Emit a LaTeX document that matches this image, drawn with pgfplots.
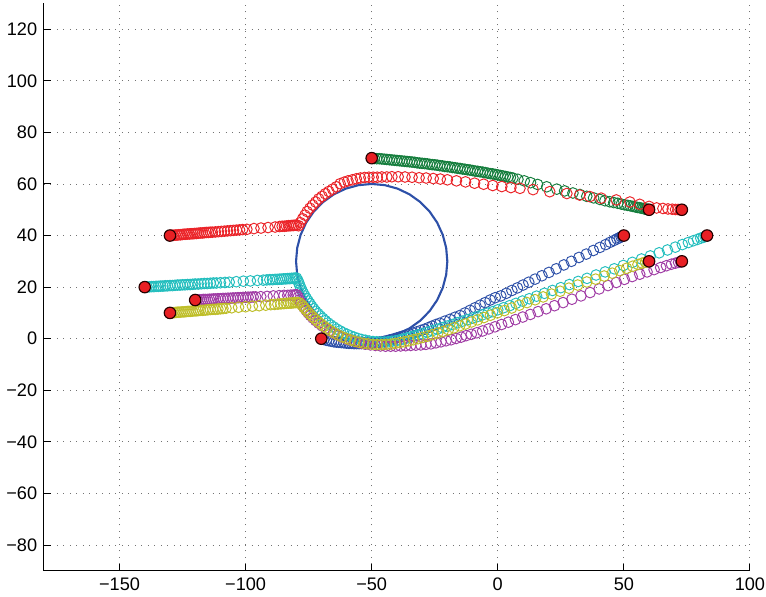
\documentclass[border=0pt]{standalone}
\usepackage{pgfplots}
\pgfplotsset{compat=1.18}
\usepackage{fontspec}
\setmainfont{Liberation Sans}
\definecolor{cB}{RGB}{45,80,168}
\definecolor{cG}{RGB}{20,125,60}
\definecolor{cR}{RGB}{235,35,40}
\definecolor{cC}{RGB}{35,190,190}
\definecolor{cM}{RGB}{160,60,165}
\definecolor{cY}{RGB}{190,190,40}
\definecolor{cD}{RGB}{232,32,36}
\begin{document}
\begin{tikzpicture}
\begin{axis}[
  scale only axis, width=369.7pt, height=297.1pt,
  xmin=-180, xmax=100, ymin=-90, ymax=130,
  axis lines=left,
  axis line style={black, line width=0.6pt, -},
  xtick={-150,-100,-50,0,50,100},
  xticklabels={−150,−100,−50,0,50,100},
  ytick={-80,-60,-40,-20,0,20,40,60,80,100,120},
  yticklabels={−80,−60,−40,−20,0,20,40,60,80,100,120},
  tick align=inside, major tick length=3.5pt,
  tick style={black, line width=0.5pt},
  grid=major,
  major grid style={black!55, line width=0.45pt, dash pattern=on 0.5pt off 2.9pt},
  ticklabel style={font=\fontsize{9.5}{11}\selectfont},
  xticklabel style={inner xsep=0.5pt},
  /pgf/number format/assume math mode=true,
  mark options={line width=0.5pt, solid},
]
% blue
\addplot[only marks, mark=o, mark size=2.8pt, cB] coordinates {
(-70,0)(-69,-0.3)(-68,-0.6)(-67,-0.8)(-66,-1.0)(-65,-1.2)(-64,-1.3)(-63,-1.4)(-62,-1.5)(-61,-1.6)
(-60,-1.7)(-59,-1.8)(-58,-1.8)(-57,-1.9)(-56,-1.9)(-55,-1.9)(-54,-1.9)(-53,-1.9)(-52,-1.8)(-51,-1.8)
(-50,-1.7)(-49,-1.6)(-48,-1.5)(-47,-1.3)(-46,-1.2)(-45,-1.0)(-44,-0.8)(-43,-0.5)(-42,-0.3)(-41,0)
(-40,0.3)(-39,0.6)(-38,0.9)(-37,1.2)(-36,1.5)(-35,1.8)(-33.5,2.2)(-32,2.7)(-30.5,3.2)(-29,3.7)
(-27.5,4.3)(-26,4.9)(-24.5,5.5)(-23,6.0)(-21,6.8)(-19,7.5)(-17,8.3)(-15,9.0)(-13,10.0)(-11,11.0)
(-9,12.0)(-7,13.0)(-5,14.0)(-3,15.0)(-1,15.9)(1.2,16.6)(3.4,17.6)(5.6,18.7)(7.8,19.7)(10,20.8)
(12.3,21.9)(14.8,23.1)(17.5,24.4)(20.3,25.7)(23.2,27.1)(26.2,28.6)(29.2,30.0)(32.2,31.5)(35.1,32.8)
(37.9,34.2)(40.5,35.4)(42.8,36.5)(44.6,37.4)(46.1,38.1)(47.3,38.7)(48.2,39.1)(48.9,39.5)(49.4,39.7)(49.8,39.9)(50,40)
};
% green
\addplot[only marks, mark=o, mark size=2.8pt, cG] coordinates {
(-50,70.0)(-49,69.9)(-48,69.8)(-47,69.8)(-46,69.7)(-45,69.6)(-44,69.5)(-43,69.4)(-42,69.3)(-41,69.2)
(-40,69.1)(-39,69.0)(-38,68.9)(-37,68.8)(-36,68.7)(-35,68.6)(-34,68.5)(-33,68.4)(-32,68.2)(-31,68.1)
(-30,68.0)(-29,67.9)(-28,67.8)(-27,67.6)(-26,67.5)(-25,67.4)(-24,67.3)(-23,67.1)(-22,67.0)(-21,66.8)
(-20,66.7)(-19,66.6)(-18,66.4)(-17,66.3)(-16,66.1)(-15,66.0)(-14,65.8)(-13,65.7)(-12,65.5)(-11,65.4)
(-10,65.2)(-9,65.0)(-8,64.9)(-7,64.7)(-6,64.6)(-5,64.4)(-4,64.2)(-3,64.0)(-2,63.9)(-1,63.7)
(0,63.5)(1,63.3)(2,63.1)(3,62.9)(4,62.7)(5,62.5)(6,62.3)(8,61.8)(10.5,61.2)(13,60.5)
(15.8,59.8)(19.4,58.9)(23.4,58.0)(26.5,57.3)(29.8,56.5)(32.6,55.9)(35.3,55.2)(38,54.6)(40.5,54.0)(42.5,53.5)
(44.4,53.1)(46,52.8)(47.6,52.5)(49,52.2)(50.3,51.9)(51.5,51.7)(52.6,51.5)(53.6,51.3)(54.5,51.1)(55.4,50.9)
(56.2,50.8)(57,50.6)(57.7,50.5)(58.3,50.3)(58.8,50.2)(59.2,50.2)(59.6,50.1)(59.9,50.0)(60,50)
};
% red
\addplot[only marks, mark=o, mark size=2.8pt, cR] coordinates {
(-130,40.0)(-129.3,40.1)(-128.6,40.1)(-127.9,40.2)(-127.2,40.2)(-126.5,40.3)(-125.8,40.3)(-125.1,40.4)
(-124.4,40.5)(-123.7,40.5)(-123,40.6)(-122.3,40.6)(-121.6,40.7)(-120.9,40.7)(-120.2,40.8)(-119.5,40.8)
(-118.8,40.9)(-118,41.0)(-117.2,41.0)(-116.4,41.1)(-115.6,41.2)(-114.8,41.2)(-114,41.3)(-113.2,41.3)
(-112,41.4)(-110.8,41.5)(-109.6,41.6)(-108.4,41.7)(-107.2,41.8)(-106,41.9)(-104.8,42.0)(-103.6,42.1)
(-102.4,42.2)(-101.2,42.3)(-99.5,42.4)(-96.7,42.7)(-93.9,42.9)(-91.1,43.1)(-88.3,43.3)(-86.5,43.5)
(-85.5,43.6)(-84.6,43.6)(-83.8,43.7)(-83,43.8)(-82.3,43.8)(-81.6,43.9)(-81,43.9)(-80.4,44.0)(-79.8,44.0)
(-79.0,43.8)(-78.3,45.0)(-77.4,46.5)(-76.5,47.9)(-75.6,49.3)(-74.5,50.6)(-73.4,51.8)(-72.2,53.0)
(-71.0,54.2)(-69.7,55.2)(-68.4,56.2)(-67.0,57.1)(-65.5,58.0)(-64.0,58.9)(-62.5,60.1)(-60.9,60.7)
(-59.4,61.2)(-57.7,61.6)(-56.1,62.0)(-54.5,62.3)(-52.8,62.5)(-51.1,62.6)(-49.4,62.6)(-47.8,62.6)
(-46,62.7)(-44,62.7)(-42,62.8)(-39.5,62.8)(-36.8,62.7)(-34,62.6)(-31.2,62.4)(-28.4,62.3)(-25.6,62.1)
(-22.8,61.9)(-20,61.6)(-16.4,61.2)(-12.8,60.8)(-9.2,60.3)(-5.6,59.9)(-2,59.4)(1.6,59.0)(5.2,58.6)
(8.8,58.3)(14,57.8)(20.6,57.0)(27.4,56.3)(32.5,55.7)(36.5,55.1)(41,54.5)(47,53.8)(52.4,53.0)
(56.3,52.1)(60,51.3)(63,50.7)(65.5,50.5)(67.5,50.3)(69.2,50.2)(70.5,50.1)(71.5,50.1)(72.3,50.0)(73,50)
};
% cyan
\addplot[only marks, mark=o, mark size=2.8pt, cC] coordinates {
(-140,20.0)(-139.1,20.1)(-138.2,20.1)(-137.3,20.2)(-136.4,20.2)(-135.5,20.3)(-134.6,20.3)(-133.7,20.4)
(-132.8,20.4)(-131.9,20.5)(-131,20.5)(-130,20.6)(-129,20.6)(-128,20.7)(-127,20.8)(-126,20.8)(-125,20.9)
(-124,20.9)(-123,21.0)(-122,21.0)(-121,21.1)(-120,21.2)(-118.8,21.2)(-117.6,21.3)(-116.4,21.4)
(-115.2,21.4)(-114,21.5)(-112.8,21.6)(-111.6,21.6)(-110,21.7)(-108.2,21.8)(-106.5,21.9)(-103.7,22.1)
(-100.9,22.3)(-98.1,22.4)(-95.3,22.6)(-93,22.7)(-91.6,22.8)(-90.4,22.9)(-89.3,22.9)(-88.3,23.0)
(-87.4,23.0)(-86.5,23.1)(-85.7,23.1)(-84.9,23.2)(-84.1,23.2)(-83.3,23.3)(-82.5,23.3)(-81.8,23.4)
(-81.1,23.4)(-80.4,23.5)(-79.8,23.5)
(-79.3,22.6)(-78.9,21.6)(-78.5,20.6)(-78.1,19.6)(-77.6,18.6)(-77.1,17.6)(-76.5,16.6)(-75.9,15.6)
(-75.2,14.6)(-74.5,13.6)(-73.8,12.6)(-73.0,11.6)(-72.2,10.6)(-71.3,9.7)(-70.4,8.8)(-69.4,7.9)
(-68.4,7.0)(-67.3,6.1)(-66.2,5.3)(-65.0,4.5)(-63.8,3.7)(-62.5,3.0)(-61.2,2.3)(-59.8,1.7)(-58.4,1.1)
(-57.0,0.6)(-55.5,0.1)(-54.0,-0.3)(-52.5,-0.6)(-51.0,-0.9)(-49.5,-1.1)(-48.0,-1.2)(-46.5,-1.3)
(-45.0,-1.3)(-43.5,-1.2)(-42.0,-1.0)(-40.5,-0.8)(-39.0,-0.5)(-37.5,-0.1)(-36.0,0.3)(-34.5,0.7)
(-33.0,1.1)(-31.5,1.5)(-30.0,1.9)(-28,2.5)(-26,3.1)(-24,3.7)(-22,4.3)(-20,4.9)(-18,5.5)(-16,6.2)
(-14,6.8)(-12,7.4)(-10,8.0)(-8,8.6)(-6,9.3)(-4,9.9)(-2,10.5)(0,11.2)(2.3,12.0)(4.7,12.8)(7.2,13.7)
(9.8,14.6)(12.5,15.5)(15.4,16.5)(18.5,17.6)(21.7,18.7)(25,19.8)(28.4,21.0)(31.9,22.2)(35.4,23.4)
(39,24.7)(42.6,25.9)(46.2,27.1)(49.8,28.4)(53.4,29.6)(57,30.9)(60.5,32.1)(64,33.3)(67.3,34.4)
(70.4,35.5)(73.2,36.5)(75.6,37.3)(77.6,38.0)(79.2,38.5)(80.5,39.0)(81.5,39.3)(82.3,39.6)(82.8,39.8)(83,40)
};
% magenta
\addplot[only marks, mark=o, mark size=2.8pt, cM] coordinates {
(-120,15.0)(-119.2,15.0)(-118.4,15.1)(-117.6,15.1)(-116.8,15.2)(-116,15.2)(-115.2,15.2)(-114.4,15.3)
(-113.6,15.3)(-112.8,15.4)(-112,15.4)(-111,15.5)(-110,15.5)(-109,15.6)(-108,15.6)(-107,15.7)(-106,15.7)
(-105,15.8)(-104,15.8)(-103,15.9)(-102,15.9)(-101,16.0)(-100,16.0)(-99,16.1)(-98,16.1)(-97,16.2)
(-96,16.2)(-94,16.3)(-91.5,16.4)(-89,16.6)(-86.7,16.7)(-84.8,16.8)(-83.3,16.8)(-82.1,16.9)(-81.1,16.9)
(-80.3,17.0)(-79.7,17.0)
(-79.2,16.0)(-78.7,15.0)(-78.1,14.0)(-77.5,13.0)(-76.8,12.0)(-76.0,11.0)(-75.2,10.0)(-74.3,9.0)
(-73.3,8.0)(-72.2,7.0)(-71.0,6.0)(-69.7,5.0)(-68.3,4.0)(-66.8,3.1)(-65.2,2.2)(-63.5,1.4)(-61.8,0.6)
(-60.0,-0.1)(-58.2,-0.7)(-56.3,-1.2)(-54.4,-1.7)(-52.5,-2.1)(-50.5,-2.4)(-48.5,-2.6)(-46.5,-2.8)
(-44.5,-2.9)(-42.5,-2.9)(-40.5,-2.9)(-38.5,-2.8)(-36.5,-2.7)(-34.5,-2.6)(-32.5,-2.5)(-30.5,-2.4)
(-28.5,-2.2)(-26.5,-2.0)(-24.5,-1.6)(-22.5,-1.2)(-20.5,-0.8)(-18.5,-0.4)(-16.5,0.1)(-14.5,0.6)
(-12.5,1.2)(-10.5,1.7)(-8.3,2.3)(-6,3.0)(-3.6,3.8)(-1.1,4.6)(1.5,5.5)(4.2,6.4)(7,7.4)(9.9,8.4)
(12.9,9.4)(16,10.5)(19.2,11.6)(22.5,12.8)(25.9,14.0)(29.4,15.3)(33,16.6)(36.6,17.9)(40.2,19.3)
(43.7,20.6)(47,21.8)(50.2,23.0)(53.3,24.1)(56.3,25.0)(59.2,25.9)(62,26.8)(64.6,27.6)(66.9,28.3)
(68.9,28.9)(70.5,29.3)(71.7,29.6)(72.5,29.8)(73,30)
};
% yellow
\addplot[only marks, mark=o, mark size=2.8pt, cY] coordinates {
(-130,10.0)(-129.2,10.1)(-128.4,10.1)(-127.6,10.2)(-126.8,10.3)(-126,10.3)(-125.2,10.4)(-124.4,10.4)
(-123.6,10.5)(-122.8,10.6)(-122,10.6)(-121.2,10.7)(-120.4,10.8)(-119.6,10.8)(-118.8,10.9)(-118,11.0)
(-117,11.0)(-116,11.1)(-115,11.2)(-114,11.3)(-113,11.4)(-112,11.4)(-111,11.5)(-110,11.6)(-109,11.7)
(-107.8,11.8)(-105.5,12.0)(-102.8,12.2)(-100,12.4)(-97.3,12.6)(-94.6,12.8)(-92,13.0)(-90,13.2)
(-88.5,13.3)(-87.2,13.4)(-86,13.5)(-84.9,13.6)(-83.9,13.7)(-82.9,13.8)(-82,13.8)(-81.1,13.9)
(-80.3,14.0)(-79.5,14.0)(-78.7,13.9)
(-77.6,13.0)(-76.9,12.2)(-76.1,11.3)(-75.3,10.4)(-74.4,9.5)(-73.4,8.5)(-72.4,7.6)(-71.3,6.6)
(-70.1,5.7)(-68.9,4.8)(-67.6,3.9)(-66.2,3.0)(-64.8,2.2)(-63.3,1.4)(-61.7,0.7)(-60.1,0.1)(-58.4,-0.5)
(-56.7,-1.0)(-55.0,-1.4)(-53.2,-1.8)(-51.4,-2.0)(-49.6,-2.2)(-47.8,-2.3)(-46.0,-2.3)(-44.2,-2.2)
(-42.4,-2.1)(-40.6,-1.8)(-38.8,-1.5)(-37.0,-1.2)(-35.2,-0.8)(-33.4,-0.4)(-31.6,0.0)(-29.8,0.5)
(-27.8,1.0)(-25.8,1.6)(-23.8,2.2)(-21.7,2.8)(-19.6,3.5)(-17.4,4.2)(-15.1,5.0)(-12.8,5.7)(-10.4,6.5)
(-8,7.3)(-5.5,8.2)(-2.9,9.1)(-0.2,10.0)(2.6,10.9)(5.5,11.9)(8.5,13.0)(11.6,14.0)(14.8,15.1)(18,16.2)
(21.3,17.3)(24.7,18.4)(28.2,19.6)(31.7,20.8)(35.3,22.0)(38.8,23.1)(42.2,24.3)(45.4,25.4)(48.4,26.4)
(51.1,27.3)(53.5,28.1)(55.6,28.8)(57.3,29.3)(58.6,29.7)(59.5,29.9)(60,30)
};
% obstacle circle
\addplot[cB, line width=1.1pt, mark=none] coordinates {
(-20,30)(-20.46,35.21)(-21.81,40.26)(-24.02,45)(-27.02,49.28)(-30.72,52.98)(-35,55.98)(-39.74,58.19)
(-44.79,59.54)(-50,60)(-55.21,59.54)(-60.26,58.19)(-65,55.98)(-69.28,52.98)(-72.98,49.28)(-75.98,45)
(-78.19,40.26)(-79.54,35.21)(-80,30)(-79.54,24.79)(-78.19,19.74)(-75.98,15)(-72.98,10.72)(-69.28,7.02)
(-65,4.02)(-60.26,1.81)(-55.21,0.46)(-50,0)(-44.79,0.46)(-39.74,1.81)(-35,4.02)(-30.72,7.02)
(-27.02,10.72)(-24.02,15)(-21.81,19.74)(-20.46,24.79)(-20,30)
};
% start and end points
\addplot[only marks, mark=*, mark size=3pt, mark options={fill=cD, draw=black!85!red, line width=0.6pt}] coordinates {
(-130,40)(73,50)(-50,70)(60,50)(-70,0)(50,40)(-140,20)(83,40)(-120,15)(73,30)(-130,10)(60,30)
};
\end{axis}
\path ([yshift=1.8pt]current axis.north);
\end{tikzpicture}
\end{document}
